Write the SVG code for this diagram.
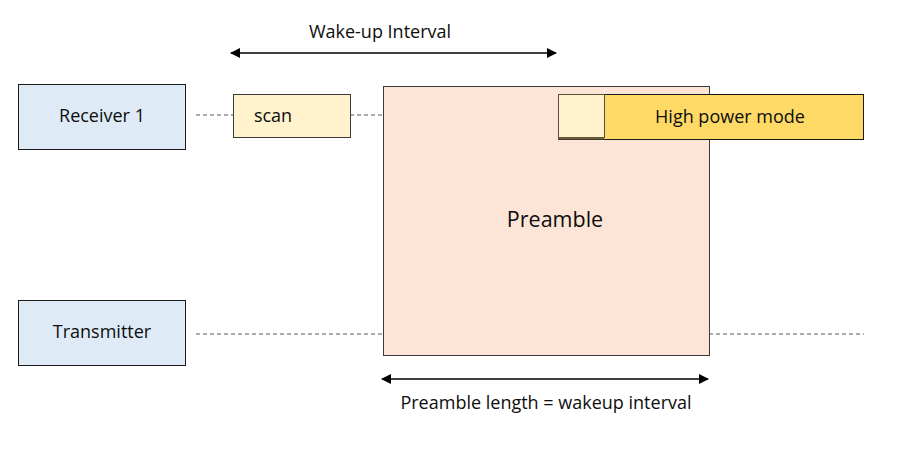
<svg xmlns="http://www.w3.org/2000/svg" width="914" height="456" viewBox="0 0 914 456">
<defs>
<style>
.t{font-family:"Open Sans","Liberation Sans",sans-serif;font-size:18px;fill:#0d0d0d;text-anchor:middle;dominant-baseline:central}
.dash{stroke:#595959;stroke-width:1.2;stroke-dasharray:4 3;fill:none}
.arr{stroke:#000;stroke-width:1.5;fill:none;marker-start:url(#ah);marker-end:url(#ah)}
</style>
<marker id="ah" viewBox="0 0 10 10" refX="9" refY="5" markerWidth="11" markerHeight="10" markerUnits="userSpaceOnUse" orient="auto-start-reverse">
<path d="M0,0 L10,5 L0,10 z" fill="#000"/>
</marker>
</defs>
<rect width="914" height="456" fill="#fff"/>
<g id="connectors">
<line class="dash" x1="196" y1="115" x2="233" y2="115"/>
<line class="dash" x1="350" y1="115" x2="383" y2="115"/>
<line class="dash" x1="196" y1="334" x2="383" y2="334"/>
<line class="dash" x1="709" y1="334" x2="864" y2="334"/>
<line class="arr" x1="231" y1="53" x2="556" y2="53"/>
<line class="arr" x1="382" y1="379" x2="708" y2="379"/>
</g>
<g id="receiver1">
<rect x="18.5" y="84.5" width="167" height="65" fill="#DEEBF7" stroke="#1a1a1a" stroke-width="1"/>
<text class="t" x="102" y="115">Receiver 1</text>
</g>
<g id="transmitter">
<rect x="18.5" y="300.5" width="167" height="65" fill="#DEEBF7" stroke="#1a1a1a" stroke-width="1"/>
<text class="t" x="102" y="331">Transmitter</text>
</g>
<g id="scan">
<rect x="233.5" y="94.5" width="117" height="43" fill="#FFF2CC" stroke="#3a3a3a" stroke-width="1"/>
<text class="t" x="273" y="115">scan</text>
</g>
<g id="preamble">
<rect x="383.5" y="86.5" width="326" height="269" fill="#FCE4D6" stroke="#3a3a3a" stroke-width="1"/>
<text class="t" x="555" y="218" style="font-size:21.5px">Preamble</text>
</g>
<g id="highpower">
<rect x="558.5" y="94.5" width="305" height="45" fill="#FFD966" stroke="#1a1a1a" stroke-width="1"/>
<rect x="558.5" y="94.5" width="46" height="43" fill="#FFF2CC" stroke="#5a4f3a" stroke-width="1"/>
<line x1="558" y1="138.5" x2="604" y2="138.5" stroke="#6b5e3e" stroke-width="2"/>
<text class="t" x="730" y="116">High power mode</text>
</g>
<g id="labels">
<text class="t" x="380" y="31">Wake-up Interval</text>
<text class="t" x="546" y="402">Preamble length = wakeup interval</text>
</g>
</svg>
